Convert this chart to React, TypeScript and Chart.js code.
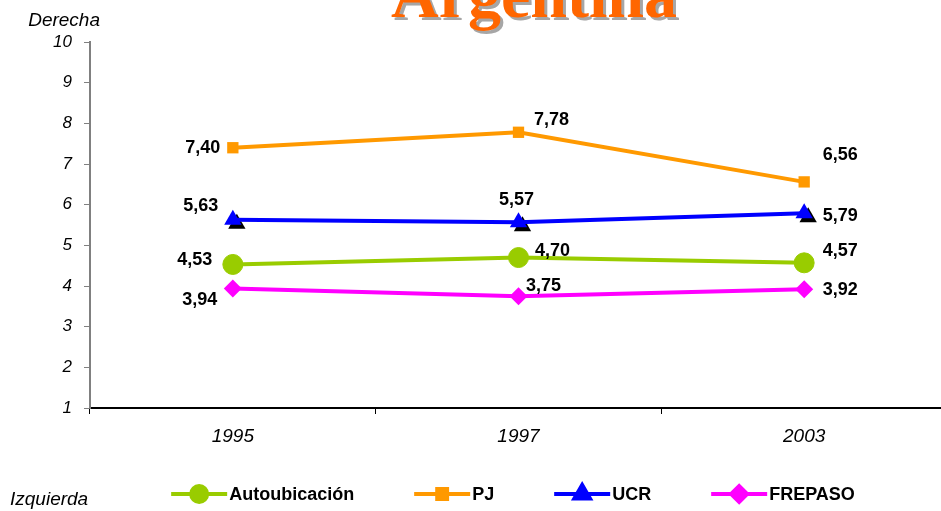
import React, { useEffect, useRef } from 'react';
import { Chart, registerables } from 'chart.js';
import { drawPoint } from 'chart.js/helpers';

Chart.register(...registerables);

// ---- data ----
const years = ['1995', '1997', '2003'];
const autoubicacion = [4.53, 4.7, 4.57];
const pj = [7.4, 7.78, 6.56];
const ucr = [5.63, 5.57, 5.79];
const frepaso = [3.94, 3.75, 3.92];
const yMin = 1;
const yMax = 10;

// ---- label placement (style, pixel offsets from each point) ----
const autoLabelOffsets = [[-38, -4], [34, -7], [36, -12]];
const pjLabelOffsets = [[-30, 0], [33, -12], [36, -27]];
const ucrLabelOffsets = [[-32, -14], [-2, -22], [36, 3]];
const frepasoLabelOffsets = [[-33, 12], [25, -10], [36, 1]];

const SANS = '"Liberation Sans", Arial, sans-serif';
const SERIF = '"Liberation Serif", "Times New Roman", serif';

const fmt = (v: number) => v.toFixed(2).replace('.', ',');

const decorPlugin = {
  id: 'decor',
  beforeDatasetDraw(chart: any, args: any) {
    const ds = chart.data.datasets[args.index];
    if (!ds.shadow) return;
    const ctx = chart.ctx;
    const meta = chart.getDatasetMeta(args.index);
    ctx.save();
    ctx.fillStyle = '#000000';
    ctx.strokeStyle = '#000000';
    meta.data.forEach((el: any) => {
      drawPoint(ctx, { pointStyle: ds.pointStyle, radius: ds.pointRadius, rotation: 0, borderWidth: 0 } as any, el.x + 4, el.y + 4);
    });
    ctx.restore();
  },
  afterDatasetsDraw(chart: any) {
    const ctx = chart.ctx;
    ctx.save();
    ctx.font = `bold 18px ${SANS}`;
    ctx.fillStyle = '#000000';
    ctx.textAlign = 'center';
    ctx.textBaseline = 'middle';
    chart.data.datasets.forEach((ds: any, i: number) => {
      const meta = chart.getDatasetMeta(i);
      meta.data.forEach((el: any, j: number) => {
        const off = ds.labelOffsets[j];
        ctx.fillText(fmt(ds.data[j]), el.x + off[0], el.y + off[1]);
      });
    });
    ctx.restore();
  },
  afterDraw(chart: any) {
    const ctx = chart.ctx;
    ctx.save();
    // title
    ctx.font = `bold 66px ${SERIF}`;
    ctx.textAlign = 'center';
    ctx.textBaseline = 'alphabetic';
    ctx.fillStyle = '#A6A6A6';
    ctx.fillText('Argentina', 537, 20);
    ctx.fillStyle = '#FF6600';
    ctx.fillText('Argentina', 534, 17);
    // side notes
    ctx.font = `italic 19px ${SANS}`;
    ctx.fillStyle = '#000000';
    ctx.textAlign = 'right';
    ctx.fillText('Derecha', 100, 26);
    ctx.textAlign = 'left';
    ctx.fillText('Izquierda', 10, 505);
    // legend
    ctx.font = `bold 18px ${SANS}`;
    ctx.textBaseline = 'middle';
    const lineW = 56;
    const gap = 60;
    const items = chart.data.datasets.map((ds: any) => ({ ds, w: lineW + 2 + ctx.measureText(ds.label).width }));
    const total = items.reduce((s: number, it: any) => s + it.w, 0) + gap * (items.length - 1);
    let x = 513 - total / 2;
    const y = 494;
    items.forEach((it: any) => {
      const ds = it.ds;
      ctx.strokeStyle = ds.borderColor;
      ctx.lineWidth = ds.borderWidth;
      ctx.beginPath();
      ctx.moveTo(x, y);
      ctx.lineTo(x + lineW, y);
      ctx.stroke();
      ctx.fillStyle = ds.pointBackgroundColor;
      ctx.strokeStyle = ds.pointBorderColor;
      drawPoint(ctx, { pointStyle: ds.pointStyle, radius: ds.legendRadius, rotation: 0, borderWidth: 1 } as any, x + lineW / 2, y);
      ctx.fillStyle = '#000000';
      ctx.textAlign = 'left';
      ctx.fillText(ds.label, x + lineW + 2, y + 1);
      x += it.w + gap;
    });
    ctx.restore();
  },
};

export default function App() {
  const ref = useRef<HTMLCanvasElement | null>(null);
  useEffect(() => {
    document.body.style.margin = '0';
    document.body.style.overflow = 'hidden';
    const canvas = ref.current!;
    const chart = new Chart(canvas, {
      type: 'line',
      data: {
        labels: years,
        datasets: [
          {
            label: 'Autoubicación',
            data: autoubicacion,
            borderColor: '#99CC00',
            backgroundColor: '#99CC00',
            pointBackgroundColor: '#99CC00',
            pointBorderColor: '#99CC00',
            borderWidth: 4,
            pointStyle: 'circle',
            pointRadius: 10,
            pointBorderWidth: 1,
            legendRadius: 8,
            labelOffsets: autoLabelOffsets,
          } as any,
          {
            label: 'PJ',
            data: pj,
            borderColor: '#FF9900',
            backgroundColor: '#FF9900',
            pointBackgroundColor: '#FF9900',
            pointBorderColor: '#FF9900',
            borderWidth: 4,
            pointStyle: 'rect',
            pointRadius: 8,
            pointBorderWidth: 0,
            legendRadius: 7,
            labelOffsets: pjLabelOffsets,
          } as any,
          {
            label: 'UCR',
            data: ucr,
            borderColor: '#0000FF',
            backgroundColor: '#0000FF',
            pointBackgroundColor: '#0000FF',
            pointBorderColor: '#0000FF',
            borderWidth: 4,
            pointStyle: 'triangle',
            pointRadius: 10,
            pointBorderWidth: 0,
            legendRadius: 9,
            shadow: true,
            labelOffsets: ucrLabelOffsets,
          } as any,
          {
            label: 'FREPASO',
            data: frepaso,
            borderColor: '#FF00FF',
            backgroundColor: '#FF00FF',
            pointBackgroundColor: '#FF00FF',
            pointBorderColor: '#FF00FF',
            borderWidth: 4,
            pointStyle: 'rectRot',
            pointRadius: 9,
            pointBorderWidth: 0,
            legendRadius: 8,
            labelOffsets: frepasoLabelOffsets,
          } as any,
        ],
      },
      options: {
        animation: false,
        responsive: false,
        layout: { padding: { top: 42, left: 0, right: 0, bottom: 0 } },
        plugins: {
          legend: { display: false },
          title: { display: false },
          tooltip: { enabled: false },
        },
        scales: {
          x: {
            offset: true,
            grid: { display: true, drawOnChartArea: false, drawTicks: true, tickLength: 6, color: '#000000', offset: true },
            border: { display: true, color: '#000000', width: 2 },
            ticks: { color: '#000000', font: { family: SANS, size: 19, style: 'italic' }, padding: 11 },
            afterFit: (s: any) => { s.height = 103; },
          },
          y: {
            min: yMin,
            max: yMax,
            grid: { display: true, drawOnChartArea: false, drawTicks: true, tickLength: 6, color: '#808080' },
            border: { display: true, color: '#808080', width: 2 },
            ticks: { stepSize: 1, color: '#000000', font: { family: SANS, size: 17, style: 'italic' }, padding: 12 },
            afterFit: (s: any) => { s.width = 90; },
          },
        },
      },
      plugins: [decorPlugin],
    } as any);
    return () => chart.destroy();
  }, []);
  return (
    <div style={{ width: 941, height: 511, overflow: 'hidden', position: 'relative' }}>
      <canvas ref={ref} width={958} height={511} style={{ display: 'block' }} />
    </div>
  );
}
